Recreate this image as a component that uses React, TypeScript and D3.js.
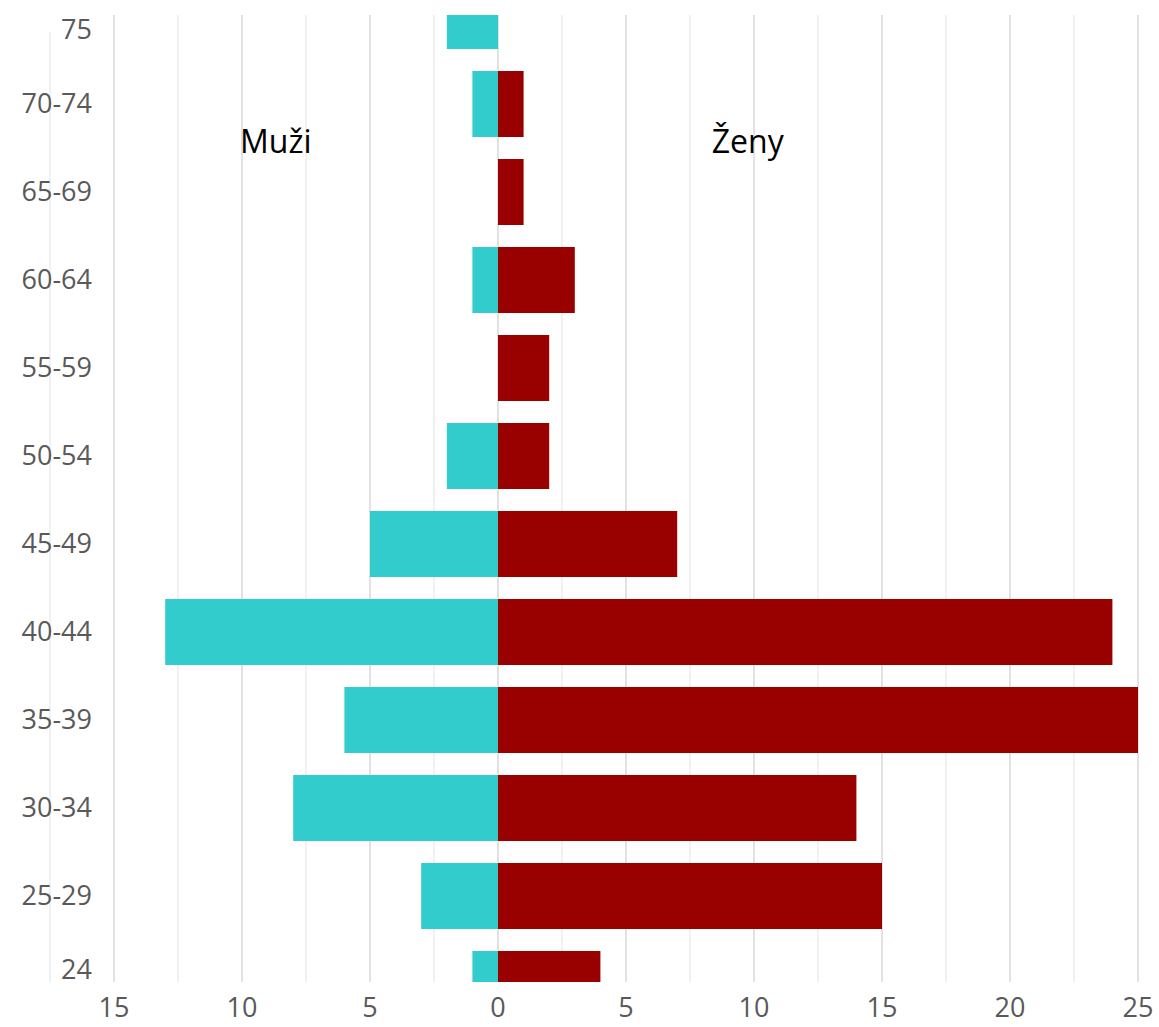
import React from "react";
import * as d3 from "d3";

const categories = ["75", "70-74", "65-69", "60-64", "55-59", "50-54", "45-49", "40-44", "35-39", "30-34", "25-29", "24"];
const men = [2, 1, 0, 1, 0, 2, 5, 13, 6, 8, 3, 1];
const women = [0, 1, 1, 3, 2, 2, 7, 24, 25, 14, 15, 4];
const xTicks = [-15, -10, -5, 0, 5, 10, 15, 20, 25];
const gridValues = d3.range(-17.5, 25.01, 2.5);
const menLabel = "Muži";
const womenLabel = "Ženy";

const W = 1159;
const H = 1027;
const plotTop = 15;
const plotBottom = 982;

export default function App() {
  const x = d3.scaleLinear().domain([-17.5, 25]).range([50, 1138]);
  const y = d3
    .scaleBand<string>()
    .domain(categories)
    .range([-28, 1028])
    .paddingInner(0.25)
    .paddingOuter(0.125);
  const font = "'Open Sans', 'Noto Sans', sans-serif";
  return (
    <svg
      width={W}
      height={H}
      style={{ position: "absolute", left: 0, top: 0, background: "#fff" }}
    >
      <defs>
        <clipPath id="plotClip">
          <rect x={0} y={plotTop} width={W} height={plotBottom - plotTop} />
        </clipPath>
      </defs>
      {gridValues.map((v, i) => {
        const major = Math.abs(v % 5) < 1e-9;
        return (
          <line
            key={"g" + i}
            x1={x(v)}
            x2={x(v)}
            y1={v < -15 ? plotTop + 17 : plotTop}
            y2={plotBottom}
            stroke={major ? "#d9d9d9" : "#ececec"}
            strokeWidth={1.5}
          />
        );
      })}
      <g clipPath="url(#plotClip)">
        {categories.map((c, i) => (
          <g key={c}>
            <rect
              x={x(-men[i])}
              y={y(c)}
              width={x(0) - x(-men[i])}
              height={y.bandwidth()}
              fill="#33CCCC"
            />
            <rect
              x={x(0)}
              y={y(c)}
              width={x(women[i]) - x(0)}
              height={y.bandwidth()}
              fill="#990000"
            />
          </g>
        ))}
      </g>
      {categories.map((c) => {
        const cy = (y(c) as number) + y.bandwidth() / 2;
        const ly = Math.max(plotTop + 15, Math.min(plotBottom - 12, cy));
        return (
          <text
            key={"l" + c}
            x={92}
            y={ly}
            dy="0.35em"
            textAnchor="end"
            fontFamily={font}
            fontSize={27}
            fill="#595959"
          >
            {c}
          </text>
        );
      })}
      {xTicks.map((t) => (
        <text
          key={"t" + t}
          x={x(t)}
          y={1008}
          dy="0.35em"
          textAnchor="middle"
          fontFamily={font}
          fontSize={27}
          fill="#595959"
        >
          {Math.abs(t)}
        </text>
      ))}
      <text x={x(-10) - 2} y={142} dy="0.35em" fontFamily={font} fontSize={32} fill="#000">
        {menLabel}
      </text>
      <text x={x(8.35)} y={142} dy="0.35em" fontFamily={font} fontSize={32} fill="#000">
        {womenLabel}
      </text>
    </svg>
  );
}
